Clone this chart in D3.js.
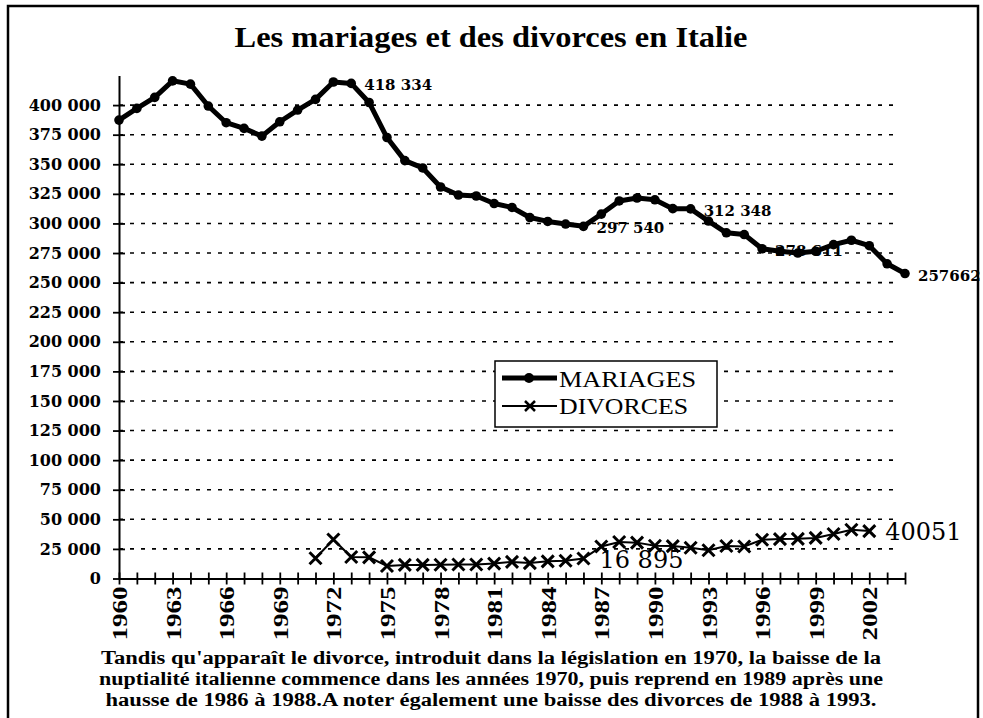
<!DOCTYPE html>
<html>
<head>
<meta charset="utf-8">
<script src="https://cdnjs.cloudflare.com/ajax/libs/d3/7.8.5/d3.min.js"></script>
<style>
  body { margin: 0; background: #fff; }
  svg { display: block; }
</style>
</head>
<body>
<div id="chart-area"></div>
<script>

/* data */
const years = [1960, 1961, 1962, 1963, 1964, 1965, 1966, 1967, 1968, 1969,
    1970, 1971, 1972, 1973, 1974, 1975, 1976, 1977, 1978, 1979,
    1980, 1981, 1982, 1983, 1984, 1985, 1986, 1987, 1988, 1989,
    1990, 1991, 1992, 1993, 1994, 1995, 1996, 1997, 1998, 1999,
    2000, 2001, 2002, 2003, 2004];

const mariages = [387300, 397200, 406500, 420500, 417700, 399200, 385100, 380300, 373800, 385900,
    395800, 404800, 419500, 418334, 402200, 372600, 353100, 346900, 330800, 324000,
    323200, 316800, 313500, 305000, 301700, 299500, 297540, 307900, 319000, 321500,
    320000, 312500, 312348, 302000, 292100, 290600, 278611, 276500, 275000, 276500,
    282100, 285800, 281200, 265900, 257662];

const divorceYears = [1971, 1972, 1973, 1974, 1975, 1976, 1977, 1978, 1979, 1980,
    1981, 1982, 1983, 1984, 1985, 1986, 1987, 1988, 1989, 1990,
    1991, 1992, 1993, 1994, 1995, 1996, 1997, 1998, 1999, 2000,
    2001, 2002];

const divorces = [17100, 33000, 18200, 17900, 10600, 11500, 11500, 11600, 11800, 11800,
    12600, 14000, 13000, 14500, 15000, 16895, 27000, 30800, 30300, 27700,
    27400, 26000, 23900, 27500, 27000, 32700, 33300, 33500, 34300, 37600,
    41200, 40051];

const yTicks = [0, 25000, 50000, 75000, 100000, 125000, 150000, 175000, 200000,
    225000, 250000, 275000, 300000, 325000, 350000, 375000, 400000];
const xLabelYears = [1960, 1963, 1966, 1969, 1972, 1975, 1978, 1981, 1984, 1987,
    1990, 1993, 1996, 1999, 2002];

// labelled points
const mariageLabelYears = [1973, 1986, 1992, 1996, 2004];
const mariageLabelTexts = ["418 334", "297 540", "312 348", "278 611", "257662"];
const divorceLabelYears = [1986, 2002];
const divorceLabelTexts = ["16 895", "40051"];

const title = "Les mariages et des divorces en Italie";
const caption = [
    "Tandis qu'apparaît le divorce, introduit dans la législation en 1970,  la baisse de la",
    "nuptialité italienne commence dans les années 1970, puis reprend en 1989 après une",
    "hausse de 1986 à 1988.A noter également une baisse des divorces de 1988 à 1993."
];

/* graphical constants */
const W = 983, H = 718;
const plot = { left: 119, right: 905, top: 75.5, bottom: 578.5 };
const SERIF = "'Liberation Serif', 'Times New Roman', serif";
const WIDE = "'DejaVu Serif', serif";

const svg = d3.select("#chart-area")
    .append("svg")
    .attr("width", W)
    .attr("height", H);

// outer frame (bottom edge falls outside the picture)
svg.append("rect")
    .attr("x", 8)
    .attr("y", 6)
    .attr("width", 970)
    .attr("height", 740)
    .attr("fill", "none")
    .attr("stroke", "#000")
    .attr("stroke-width", 2.5);

svg.append("text")
    .attr("x", 491)
    .attr("y", 47)
    .attr("text-anchor", "middle")
    .attr("textLength", 513)
    .attr("lengthAdjust", "spacingAndGlyphs")
    .style("font-family", SERIF)
    .style("font-weight", "bold")
    .style("font-size", "30px")
    .text(title);

// X Scale
const x = d3.scalePoint()
    .domain(years)
    .range([plot.left, plot.right]);

// Y Scale
const y = d3.scaleLinear()
    .domain([0, 425000])
    .range([plot.bottom, plot.top]);

// dashed grid
svg.append("g")
    .selectAll("line")
    .data(yTicks.filter(d => d > 0))
    .enter()
    .append("line")
    .attr("x1", plot.left)
    .attr("x2", 900)
    .attr("y1", d => y(d))
    .attr("y2", d => y(d))
    .attr("stroke", "#000")
    .attr("stroke-width", 1.6)
    .attr("stroke-dasharray", "4,7");

// Y Axis
const yAxisGroup = svg.append("g")
    .attr("transform", "translate(" + plot.left + ",0)")
    .call(d3.axisLeft(y)
        .tickValues(yTicks)
        .tickSizeOuter(0)
        .tickFormat(d => d3.format(",")(d).replace(/,/g, " ")));

yAxisGroup.select(".domain")
    .attr("stroke-width", 2);
yAxisGroup.selectAll(".tick line")
    .attr("x1", -6)
    .attr("x2", 6)
    .attr("stroke-width", 1.8);
yAxisGroup.selectAll(".tick text")
    .attr("x", -18)
    .attr("fill", "#000")
    .style("font-family", WIDE)
    .style("font-weight", "bold")
    .style("font-size", "16px");

// X Axis
const xAxisGroup = svg.append("g")
    .attr("transform", "translate(0," + plot.bottom + ")")
    .call(d3.axisBottom(x)
        .tickValues(years)
        .tickSizeOuter(0)
        .tickFormat(d => xLabelYears.includes(d) ? d : ""));

xAxisGroup.select(".domain")
    .attr("stroke-width", 2.2);
xAxisGroup.selectAll(".tick line")
    .attr("y1", -6)
    .attr("y2", 6)
    .attr("stroke-width", 1.8);
xAxisGroup.selectAll(".tick text")
    .filter(d => xLabelYears.includes(d))
    .attr("y", 0)
    .attr("x", -8)
    .attr("dy", "0.36em")
    .attr("transform", "rotate(-90)")
    .attr("textLength", 54)
    .attr("lengthAdjust", "spacingAndGlyphs")
    .attr("fill", "#000")
    .style("text-anchor", "end")
    .style("font-family", SERIF)
    .style("font-weight", "bold")
    .style("font-size", "21px");

// MARIAGES line
const mData = years.map((d, i) => ({ year: d, value: mariages[i] }));
const dData = divorceYears.map((d, i) => ({ year: d, value: divorces[i] }));

const line = d3.line()
    .x(d => x(d.year))
    .y(d => y(d.value));

svg.append("path")
    .datum(mData)
    .attr("d", line)
    .attr("fill", "none")
    .attr("stroke", "#000")
    .attr("stroke-width", 5)
    .attr("stroke-linejoin", "round");

svg.append("g")
    .selectAll("circle")
    .data(mData)
    .enter()
    .append("circle")
    .attr("cx", d => x(d.year))
    .attr("cy", d => y(d.value))
    .attr("r", 4.8)
    .attr("fill", "#000");

// DIVORCES line
svg.append("path")
    .datum(dData)
    .attr("d", line)
    .attr("fill", "none")
    .attr("stroke", "#000")
    .attr("stroke-width", 2);

const cross = "M-6,-6L6,6M-6,6L6,-6";
svg.append("g")
    .selectAll("path")
    .data(dData)
    .enter()
    .append("path")
    .attr("transform", d => "translate(" + x(d.year) + "," + y(d.value) + ")")
    .attr("d", cross)
    .attr("stroke", "#000")
    .attr("stroke-width", 3);

// point labels
svg.append("g")
    .selectAll("text")
    .data(mariageLabelYears)
    .enter()
    .append("text")
    .attr("x", d => x(d) + 13)
    .attr("y", d => y(mariages[years.indexOf(d)]) + 7)
    .style("font-family", WIDE)
    .style("font-weight", "bold")
    .style("font-size", "15px")
    .text((d, i) => mariageLabelTexts[i]);

svg.append("g")
    .selectAll("text")
    .data(divorceLabelYears)
    .enter()
    .append("text")
    .attr("x", d => x(d) + 16)
    .attr("y", d => y(divorces[divorceYears.indexOf(d)]) + 9)
    .style("font-family", WIDE)
    .style("font-size", "24px")
    .text((d, i) => divorceLabelTexts[i]);

// legend
const legend = svg.append("g")
    .attr("transform", "translate(495,361)");

legend.append("rect")
    .attr("width", 222)
    .attr("height", 66)
    .attr("fill", "#fff")
    .attr("stroke", "#000")
    .attr("stroke-width", 1.5);

legend.append("line")
    .attr("x1", 7).attr("x2", 62)
    .attr("y1", 17).attr("y2", 17)
    .attr("stroke", "#000")
    .attr("stroke-width", 5);
legend.append("circle")
    .attr("cx", 34).attr("cy", 17)
    .attr("r", 5);

legend.append("line")
    .attr("x1", 7).attr("x2", 62)
    .attr("y1", 45).attr("y2", 45)
    .attr("stroke", "#000")
    .attr("stroke-width", 2);
legend.append("path")
    .attr("transform", "translate(35,45)")
    .attr("d", "M-5,-5L5,5M-5,5L5,-5")
    .attr("stroke", "#000")
    .attr("stroke-width", 2.5);

const legendWidths = [137, 129];
legend.selectAll(".leg-text")
    .data(["MARIAGES", "DIVORCES"])
    .enter()
    .append("text")
    .attr("class", "leg-text")
    .attr("x", 64)
    .attr("y", (d, i) => 26 + i * 27)
    .attr("textLength", (d, i) => legendWidths[i])
    .attr("lengthAdjust", "spacingAndGlyphs")
    .style("font-family", SERIF)
    .style("font-size", "24px")
    .text(d => d);

// caption
const captionWidths = [780, 784, 771];
svg.append("g")
    .selectAll("text")
    .data(caption)
    .enter()
    .append("text")
    .attr("x", 491)
    .attr("y", (d, i) => 664 + i * 21)
    .attr("text-anchor", "middle")
    .attr("textLength", (d, i) => captionWidths[i])
    .attr("lengthAdjust", "spacingAndGlyphs")
    .style("font-family", SERIF)
    .style("font-weight", "bold")
    .style("font-size", "18.5px")
    .text(d => d);

</script>
</body>
</html>
